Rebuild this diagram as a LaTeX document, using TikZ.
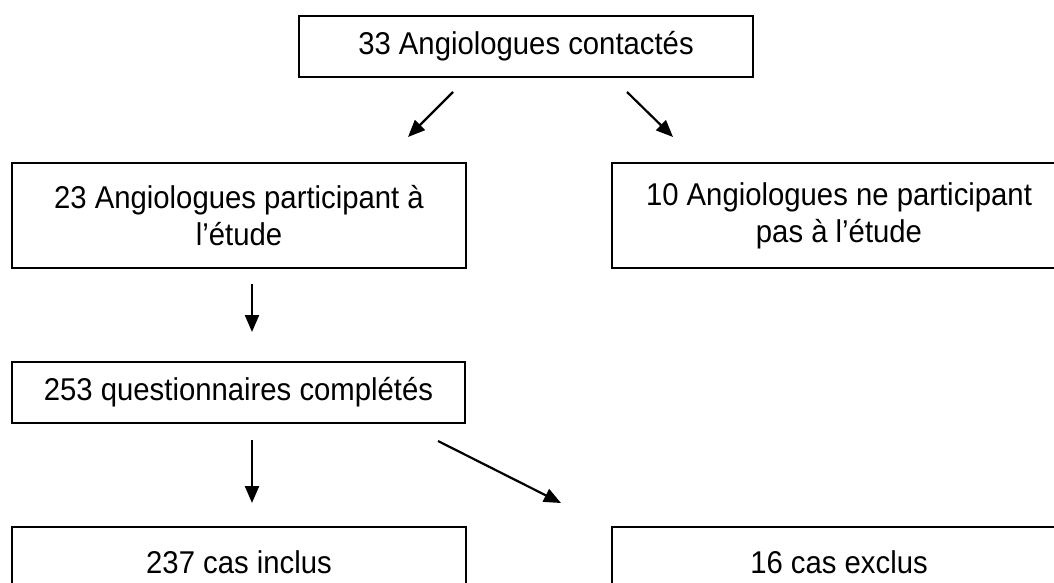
\documentclass[tikz,border=0pt]{standalone}
\usepackage{fontspec}
\setmainfont{Liberation Sans}[FakeStretch=0.93]
\usetikzlibrary{arrows.meta}
\begin{document}
\begin{tikzpicture}[x=1pt,y=-1pt,
  box/.style={draw=black, line width=1.7pt, fill=white, minimum width=454pt, inner sep=0pt, align=center,
     font=\fontsize{31.5}{37}\selectfont},
  arr/.style={line width=2.2pt, -{Triangle[length=17pt,width=14pt]}}]
\useasboundingbox (0,0) rectangle (1054,583);
\node[box, minimum height=61pt] (b1) at (526,46.5) {33 Angiologues contactés};
\node[box, minimum height=105pt] (b2) at (239,215.5) {23 Angiologues participant à\\l’étude};
\node[box, minimum height=105pt] (b3) at (839,215.5) {10 Angiologues ne participant\\pas à l’étude};
\node[box, minimum width=453pt, minimum height=61pt] (b4) at (238.5,392.5) {253 questionnaires complétés};
\node[box, minimum height=70pt] (b5) at (239,562) {237 cas inclus};
\node[box, minimum height=70pt] (b6) at (839,562) {16 cas exclus};
\coordinate (a1s) at (453,92);  \coordinate (a1e) at (408,137);
\coordinate (a2s) at (627,92);  \coordinate (a2e) at (673,137);
\coordinate (a3s) at (252,284); \coordinate (a3e) at (252,332);
\coordinate (a4s) at (252,440); \coordinate (a4e) at (252,503);
\coordinate (a5s) at (438,441); \coordinate (a5e) at (561,503);
\draw[arr] (a1s) -- (a1e);
\draw[arr] (a2s) -- (a2e);
\draw[arr] (a3s) -- (a3e);
\draw[arr] (a4s) -- (a4e);
\draw[arr] (a5s) -- (a5e);
\end{tikzpicture}
\end{document}
